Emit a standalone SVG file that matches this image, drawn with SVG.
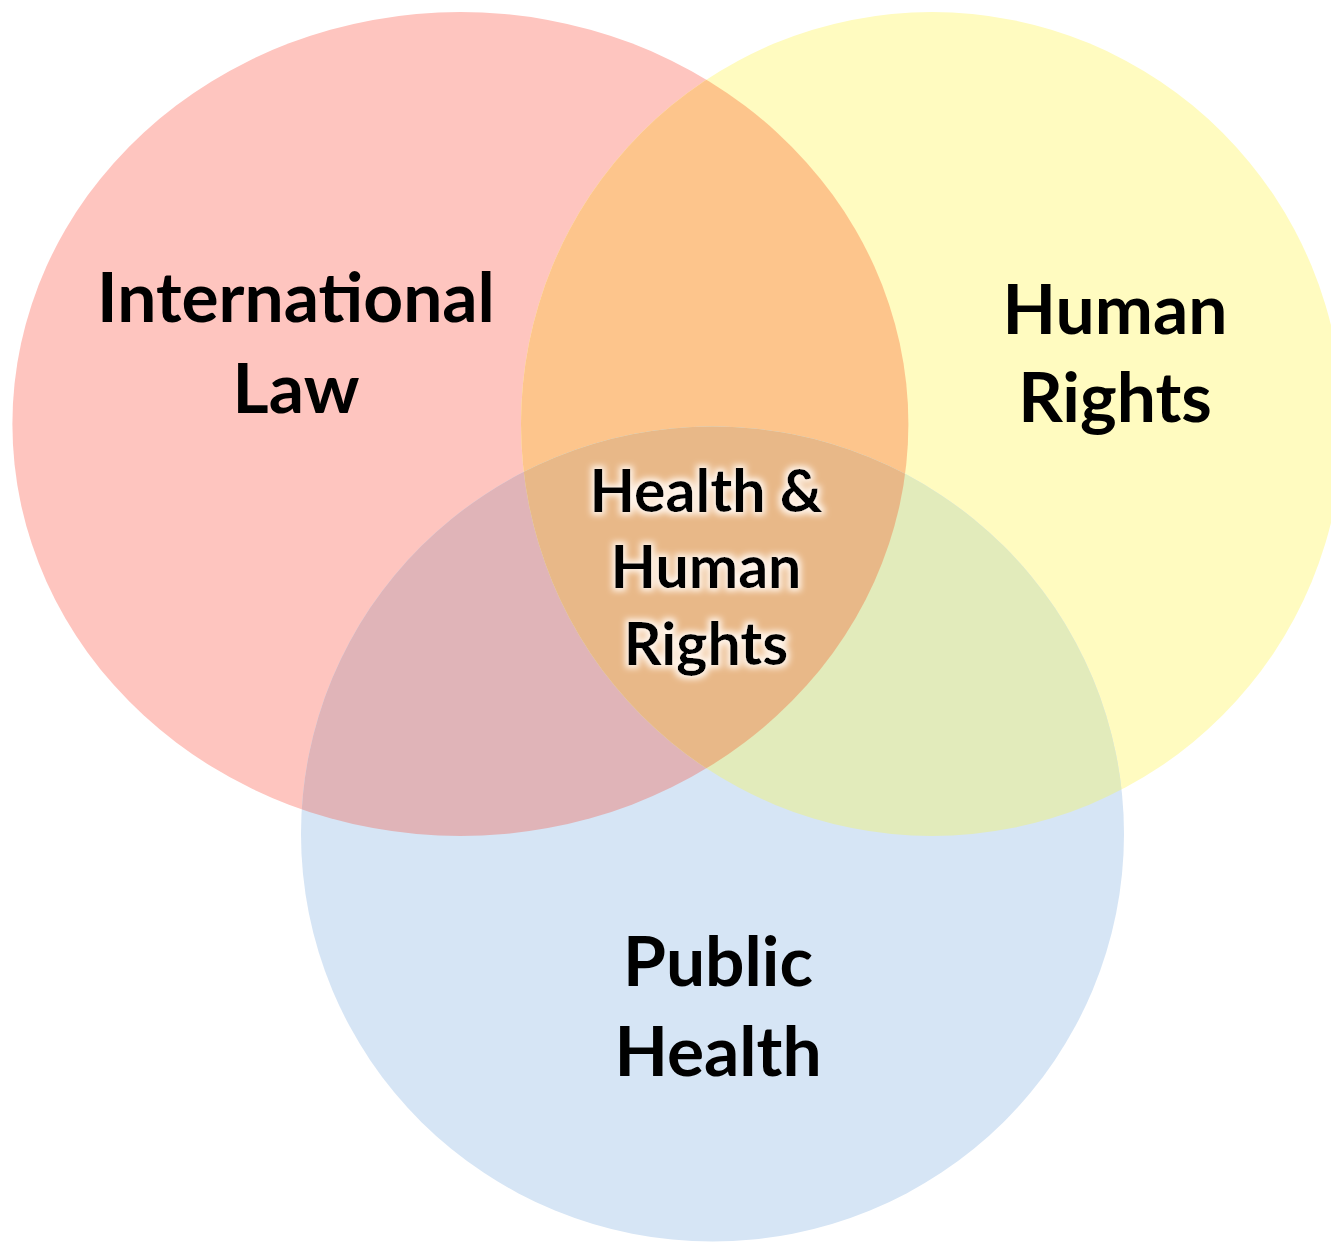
<svg xmlns="http://www.w3.org/2000/svg" width="1331" height="1244" viewBox="0 0 1331 1244">
<defs>
<style>
.lbl{font-family:Lato,"Open Sans","Liberation Sans",sans-serif;font-weight:700;fill:#000;text-anchor:middle}
.big{font-size:69.5px}
.mid{font-size:59px}
</style>
<clipPath id="cRed"><ellipse cx="460.4" cy="424" rx="448" ry="412"/></clipPath>
<clipPath id="cYellow"><ellipse cx="932" cy="424" rx="411" ry="412"/></clipPath>
<filter id="glow" x="-20%" y="-30%" width="140%" height="160%">
<feMorphology in="SourceAlpha" operator="dilate" radius="2.5" result="d"/>
<feGaussianBlur in="d" stdDeviation="3" result="b"/>
<feFlood flood-color="#FFF4EA" flood-opacity="1"/>
<feComposite in2="b" operator="in" result="g"/>
<feMerge><feMergeNode in="g"/><feMergeNode in="SourceGraphic"/></feMerge>
</filter>
</defs>
<rect width="1331" height="1244" fill="#FFFFFF"/>
<g id="international-law">
<ellipse cx="460.4" cy="424" rx="448" ry="412" fill="#FEC5BF"/>
</g>
<g id="human-rights">
<ellipse cx="932" cy="424" rx="411" ry="412" fill="#FFFBC0"/>
<ellipse cx="932" cy="424" rx="411" ry="412" fill="#FDC58C" clip-path="url(#cRed)"/>
</g>
<g id="public-health">
<ellipse cx="712.5" cy="834" rx="411.5" ry="407.5" fill="#D6E5F5"/>
<ellipse cx="712.5" cy="834" rx="411.5" ry="407.5" fill="#E0B4B8" clip-path="url(#cRed)"/>
<ellipse cx="712.5" cy="834" rx="411.5" ry="407.5" fill="#E2EBBB" clip-path="url(#cYellow)"/>
<g clip-path="url(#cRed)">
<ellipse cx="712.5" cy="834" rx="411.5" ry="407.5" fill="#E8B888" clip-path="url(#cYellow)"/>
</g>
</g>
<g id="connectors"></g>
<g id="label-international-law">
<text class="lbl big" x="296" y="322">International</text>
<text class="lbl big" x="296" y="413">Law</text>
</g>
<g id="label-human-rights">
<text class="lbl big" x="1115" y="334">Human</text>
<text class="lbl big" x="1115" y="422">Rights</text>
</g>
<g id="label-public-health">
<text class="lbl big" x="718" y="986">Public</text>
<text class="lbl big" x="718" y="1076">Health</text>
</g>
<g id="label-center" filter="url(#glow)">
<text class="lbl mid" x="706" y="512">Health &amp;</text>
<text class="lbl mid" x="706" y="588">Human</text>
<text class="lbl mid" x="706" y="665">Rights</text>
</g>
</svg>
